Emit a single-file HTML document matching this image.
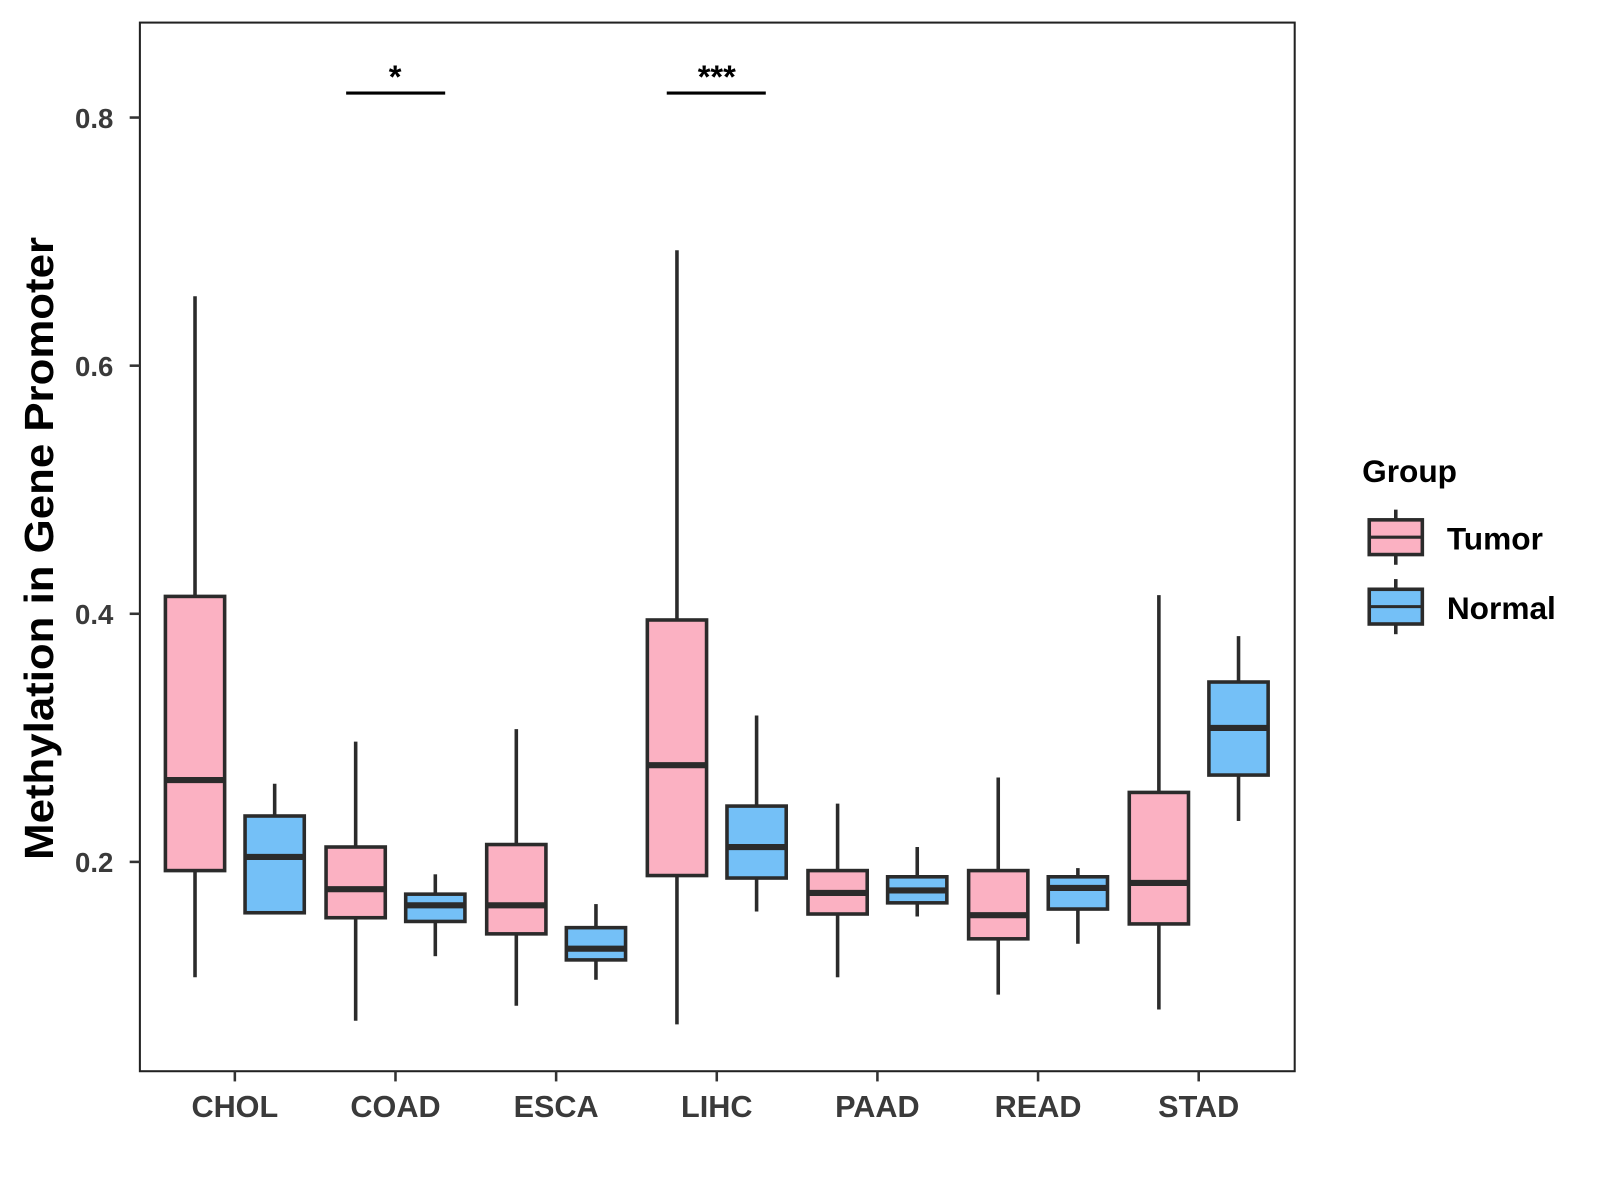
<!DOCTYPE html>
<html><head><meta charset="utf-8"><style>
html,body{margin:0;padding:0;background:#fff}
svg{display:block;font-family:"Liberation Sans",Arial,sans-serif;font-weight:bold}
</style></head><body>
<svg id="chart" width="1600" height="1200" viewBox="0 0 1567 1175" xmlns="http://www.w3.org/2000/svg">
<rect x="137" y="22" width="1131" height="1027" fill="#fff" stroke="#222" stroke-width="2"/>
<g id="axes"></g>
<g id="boxes"></g>
<g>
<line x1="339" y1="91" x2="436" y2="91" stroke="#000" stroke-width="3"/>
<text x="387" y="86" font-size="32" text-anchor="middle">*</text></g>
<g>
<line x1="653" y1="91" x2="750" y2="91" stroke="#000" stroke-width="3"/>
<text x="702" y="86" font-size="32" text-anchor="middle">***</text></g>
<text transform="translate(52,537) rotate(-90)" font-size="40" text-anchor="middle" textLength="610" lengthAdjust="spacingAndGlyphs" fill="#000">Methylation in Gene Promoter</text>
<g>
<text x="1334" y="472" font-size="31" fill="#000">Group</text>
<g>
<line x1="1367" y1="499" x2="1367" y2="553" stroke="#2b2b2b" stroke-width="3.5"/>
<rect x="1341" y="509" width="52" height="34" fill="#FBB1C2" stroke="#2b2b2b" stroke-width="3.5"/>
<line x1="1341" y1="526" x2="1393" y2="526" stroke="#2b2b2b" stroke-width="3"/>
<text x="1417" y="538" font-size="31" fill="#000">Tumor</text></g>
<g>
<line x1="1367" y1="567" x2="1367" y2="621" stroke="#2b2b2b" stroke-width="3.5"/>
<rect x="1341" y="577" width="52" height="34" fill="#74C0F7" stroke="#2b2b2b" stroke-width="3.5"/>
<line x1="1341" y1="594" x2="1393" y2="594" stroke="#2b2b2b" stroke-width="3"/>
<text x="1417" y="606" font-size="31" fill="#000">Normal</text></g>
</g>
</svg>
<script>
const categories=["CHOL","COAD","ESCA","LIHC","PAAD","READ","STAD"];
const yTicks=[0.2,0.4,0.6,0.8];
const yTickLabels=["0.2","0.4","0.6","0.8"];
// [low, q1, median, q3, high]
const tumorStats=[[0.107,0.193,0.266,0.414,0.656],[0.072,0.155,0.178,0.212,0.297],[0.084,0.142,0.165,0.214,0.307],[0.069,0.189,0.278,0.395,0.693],[0.107,0.158,0.175,0.193,0.247],[0.093,0.138,0.157,0.193,0.268],[0.081,0.150,0.183,0.256,0.415]];
const normalStats=[[0.159,0.159,0.204,0.237,0.263],[0.124,0.152,0.165,0.174,0.190],[0.105,0.121,0.130,0.147,0.166],[0.160,0.187,0.212,0.245,0.318],[0.156,0.167,0.177,0.188,0.212],[0.134,0.162,0.179,0.188,0.195],[0.233,0.270,0.308,0.345,0.382]];
const NS="http://www.w3.org/2000/svg";
function y(v){return 844-(v-0.2)*1215;}
function x(i){return 230+i*157.33;}
function mk(t,a,p){const e=document.createElementNS(NS,t);for(const k in a)e.setAttribute(k,a[k]);p.appendChild(e);return e;}
const axes=document.getElementById('axes'),boxes=document.getElementById('boxes');
yTicks.forEach((v,i)=>{
  const l=mk('line',{x1:127,x2:137,y1:y(v),y2:y(v),stroke:'#333','stroke-width':2.5},axes);
  
  
  const t=mk('text',{x:111,y:y(v)+10,'font-size':27,'text-anchor':'end',fill:'#3a3a3a'},axes);
  
  
  t.textContent=yTickLabels[i];
});
categories.forEach((c,i)=>{
  const l=mk('line',{x1:x(i),x2:x(i),y1:1049,y2:1059,stroke:'#333','stroke-width':2.5},axes);
  
  
  const t=mk('text',{x:x(i),y:1094,'font-size':30,'text-anchor':'middle',fill:'#3a3a3a'},axes);
  
  
  t.textContent=c;
});
function box(s,cx,fill,name){
  const g=mk('g',{},boxes);
  
  
  const w=58,st='#2b2b2b';
  mk('line',{x1:cx,x2:cx,y1:y(s[4]),y2:y(s[3]),stroke:st,'stroke-width':3.5},g);
  mk('line',{x1:cx,x2:cx,y1:y(s[1]),y2:y(s[0]),stroke:st,'stroke-width':3.5},g);
  mk('rect',{x:cx-w/2,y:y(s[3]),width:w,height:y(s[1])-y(s[3]),fill:fill,stroke:st,'stroke-width':3.5},g);
  mk('line',{x1:cx-w/2,x2:cx+w/2,y1:y(s[2]),y2:y(s[2]),stroke:st,'stroke-width':6},g);
}
categories.forEach((c,i)=>{
  box(tumorStats[i],x(i)-39,'#FBB1C2','box-tumor-'+c.toLowerCase());
  box(normalStats[i],x(i)+39,'#74C0F7','box-normal-'+c.toLowerCase());
});
</script>
</body></html>
